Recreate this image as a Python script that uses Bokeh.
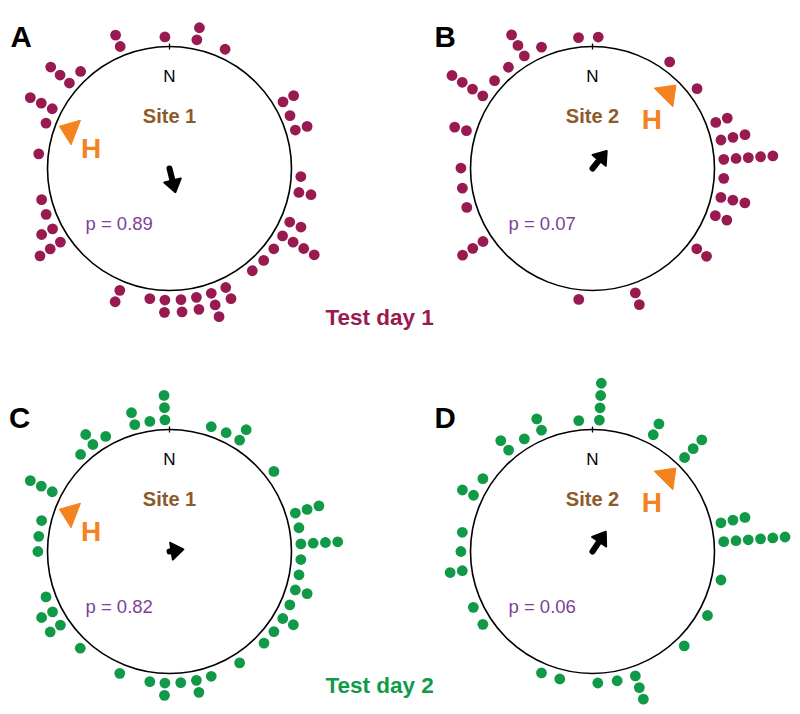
import numpy as np
from bokeh.plotting import figure
from bokeh.models import Range1d
from bokeh.core.properties import value
from bokeh.embed import file_html
from bokeh.resources import INLINE

# ---------------- data ----------------
panel_letters = ["A", "B", "C", "D"]
site_labels = ["Site 1", "Site 2", "Site 1", "Site 2"]
p_values = ["p = 0.89", "p = 0.07", "p = 0.82", "p = 0.06"]
home_angles = [291, 45, 291, 45]          # bearing of home (deg, clockwise from N)
mean_angles = [166, 39, 81, 34]           # mean vector bearing
mean_lengths = [0.20, 0.185, 0.115, 0.195]  # mean vector length (fraction of radius)
day_labels = ["Test day 1", "Test day 2"]

# individual headings: bearing bins (deg) and number of animals per bin
A_angles = [338, 358, 12, 25, 59.6, 66.3, 73, 93.5, 100.5, 114,
            120.8, 127.6, 134.3, 141, 154.7, 161.5, 168.2, 175, 182, 188.6,
            202.2, 236, 242.7, 249.6, 256.3, 276.4, 290.2, 297, 310.5, 317.5]
A_counts = [2, 1, 2, 1, 2, 1, 2, 1, 2, 2,
            4, 1, 1, 1, 2, 3, 2, 2, 2, 1,
            2, 3, 2, 1, 1, 1, 1, 3, 3, 1]

B_angles = [2.5, 35.9, 52.6, 69.5, 77.5, 86, 94.3, 102.7, 111, 127.6, 161, 186,
            236.3, 252.8, 261.4, 270.2, 286.7, 303.5, 311.9, 320.3, 328.8, 337.2, 353.9]
B_counts = [1, 1, 1, 2, 3, 5, 1, 3, 2, 2, 2, 1,
            3, 1, 1, 1, 2, 4, 1, 1, 3, 1, 1]

C_angles = [18.5, 25.5, 32.2, 52.5, 73, 79.6, 86.7, 93.5, 100.2, 107,
            113.9, 120.6, 127.5, 134.1, 147.8, 161.5, 168.2, 175.1, 182, 188.6,
            202.2, 222.7, 236, 242.7, 249.8, 270, 276.6, 283.6, 297, 317.5,
            324.4, 331, 344.7, 351.4, 358]
C_counts = [1, 1, 2, 1, 3, 1, 4, 1, 1, 2,
            1, 2, 1, 1, 1, 1, 2, 1, 2, 1,
            1, 1, 2, 2, 1, 1, 1, 1, 3, 1,
            2, 1, 2, 1, 3]

D_angles = [3, 27.5, 44.4, 77.4, 85.7, 102.5, 119.1, 135.8, 161, 169.2, 177.7, 194.4,
            202.8, 236.4, 244.9, 261.6, 270, 278.4, 295.3, 303.6, 320.4, 328.8, 337.2, 354]
D_counts = [4, 2, 3, 3, 6, 1, 1, 1, 3, 1, 1, 1,
            1, 1, 1, 2, 1, 1, 2, 1, 2, 1, 2, 1]

panel_angles = [A_angles, B_angles, C_angles, D_angles]
panel_counts = [A_counts, B_counts, C_counts, D_counts]

# ---------------- styling / layout ----------------
CRIMSON = "#981a50"
GREEN = "#109a48"
ORANGE = "#f4821f"
BROWN = "#8c5a2b"
PURPLE = "#7e3f98"
FONT = value("Liberation Sans")
dot_colors = [CRIMSON, CRIMSON, GREEN, GREEN]
centers = [(169, 168), (592, 168), (169, 551), (592, 551)]
R = 122
D0 = 131.6
STEP = 12.3

p = figure(width=800, height=714, x_range=Range1d(0, 800), y_range=Range1d(714, 0),
           output_backend="svg", toolbar_location=None, min_border=0,
           x_axis_type=None, y_axis_type=None)
p.grid.visible = False
p.outline_line_color = None
p.background_fill_color = "white"


def polar(cx, cy, ang, d):
    a = np.radians(ang)
    return cx + d * np.sin(a), cy - d * np.cos(a)


letter_x = [10, 434, 8.5, 434]
letter_y = [36, 36, 417, 417]

for i in range(4):
    cx, cy = centers[i]
    # circle
    p.circle(x=[cx], y=[cy], radius=R, fill_color=None, line_color="black", line_width=1.6)
    # N tick
    p.segment(x0=[cx], y0=[cy - R + 3], x1=[cx], y1=[cy - R - 3], line_color="black", line_width=1.3)
    # dots
    ang = np.repeat(np.array(panel_angles[i], dtype=float), panel_counts[i])
    lev = np.concatenate([np.arange(c) for c in panel_counts[i]])
    xs, ys = polar(cx, cy, ang, D0 + STEP * lev)
    p.scatter(x=xs, y=ys, size=10.8, fill_color=dot_colors[i], line_color=None)
    # home triangle
    h = home_angles[i]
    tx, ty = polar(cx, cy, h, 118)
    bx, by = polar(cx, cy, h, 118 - 17.6)
    a = np.radians(h)
    px, py = np.cos(a), np.sin(a)   # perpendicular (screen coords, y down)
    p.patch(x=[tx, bx + 13.2 * px, bx - 13.2 * px], y=[ty, by + 13.2 * py, by - 13.2 * py],
            fill_color=ORANGE, line_color=ORANGE, line_width=1)
    hx, hy = polar(cx, cy, h, 84)
    p.text(x=[hx], y=[hy + 10], text=["H"], text_font=FONT, text_font_size="28px",
           text_font_style="bold", text_color=ORANGE, text_align="center",
           text_baseline="alphabetic")
    # mean vector arrow
    L = mean_lengths[i] * R
    m = mean_angles[i]
    ex, ey = polar(cx, cy, m, L - 8)
    p.segment(x0=[cx], y0=[cy], x1=[ex], y1=[ey], line_color="black", line_width=6,
              line_cap="round")
    hx2, hy2 = polar(cx, cy, m, L)
    bx2, by2 = polar(cx, cy, m, L - 12)
    am = np.radians(m)
    qx, qy = np.cos(am), np.sin(am)
    p.patch(x=[hx2, bx2 + 8.5 * qx, bx2 - 8.5 * qx], y=[hy2, by2 + 8.5 * qy, by2 - 8.5 * qy],
            fill_color="black", line_color="black", line_width=2, line_join="round")
    # texts
    p.text(x=[cx], y=[cy - 92], text=["N"], text_font=FONT, text_font_size="17px",
           text_color="black", text_align="center", text_baseline="alphabetic")
    p.text(x=[cx], y=[cy - 53], text=[site_labels[i]], text_font=FONT, text_font_size="20px",
           text_font_style="bold", text_color=BROWN, text_align="center",
           text_baseline="alphabetic")
    p.text(x=[cx - 84], y=[cy + 54.5], text=[p_values[i]], text_font=FONT,
           text_font_size="18.5px", text_color=PURPLE, text_align="left",
           text_baseline="alphabetic")
    p.text(x=[letter_x[i]], y=[letter_y[i]], text=[panel_letters[i]], text_font=FONT,
           text_font_size="29.5px", text_font_style="bold", text_color="black",
           text_align="left", text_baseline="alphabetic")

p.text(x=[325, 325], y=[316.7, 685], text=day_labels, text_font=FONT,
       text_font_size="22.5px", text_font_style="bold", text_color=[CRIMSON, GREEN],
       text_align="left", text_baseline="alphabetic")

open("out.html", "w").write(file_html(p, INLINE))
